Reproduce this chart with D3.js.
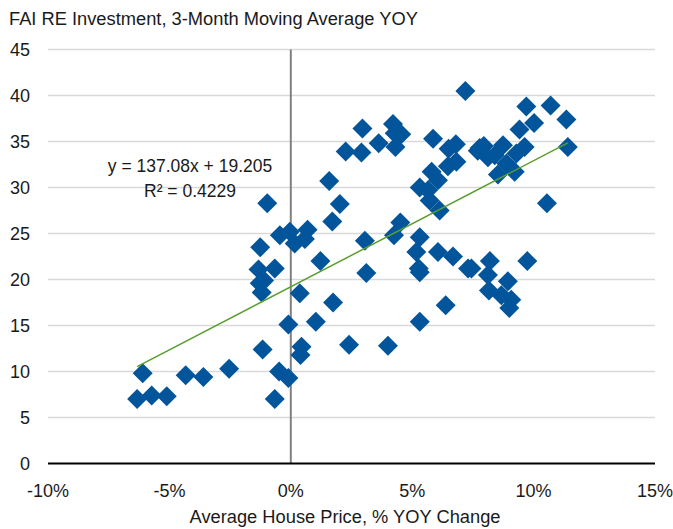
<!DOCTYPE html>
<meta charset="utf-8">
<style>
  body { margin: 0; background: #fff; }
  text { font-family: "Liberation Sans Narrow", "Arial Narrow", "Liberation Sans", sans-serif; fill: #1a1a1a; }
</style>
<body>
<svg width="673" height="529"></svg>
<script src="https://d3js.org/d3.v7.min.js"></script>
<script>

// house price yoy (%) and FAI RE investment 3mma yoy
var housePrice = [
  -6.10, -6.33, -5.73, -5.11, -4.33, -3.60, -2.54, -1.16, -1.33, -0.66,
  -1.28, -1.10, -1.20, -1.26, -0.97, -0.45, -0.04, 0.16, 0.69, 0.58,
  -0.48, -0.10, -0.66, -0.10, 0.37, 0.44, 0.40, 1.03, 1.22, 1.74,
  1.58, 2.02, 1.71, 2.40, 2.26, 2.91, 2.95, 3.05, 3.11, 3.62,
  4.00, 4.21, 4.28, 4.55, 4.31, 4.25, 4.51, 5.31, 5.17, 5.27,
  5.31, 5.31, 5.31, 5.65, 5.72, 5.86, 5.80, 6.06, 6.13, 6.06,
  6.38, 6.47, 6.82, 6.50, 6.80, 6.68, 7.19, 7.30, 7.44, 7.78,
  7.70, 7.95, 8.12, 8.40, 8.74, 8.88, 8.53, 9.22, 9.29, 8.20,
  8.12, 8.16, 8.67, 9.08, 9.00, 8.94, 9.42, 9.63, 9.70, 10.02,
  9.74, 10.55, 10.70, 11.35, 11.41
];
var faiInvestment = [
  9.8, 7.0, 7.4, 7.3, 9.6, 9.4, 10.3, 12.4, 21.1, 21.2,
  19.6, 19.9, 18.6, 23.5, 28.3, 24.8, 25.2, 23.9, 25.4, 24.4,
  10.0, 9.3, 7.0, 15.1, 18.5, 12.7, 11.8, 15.4, 22.0, 17.5,
  30.7, 28.2, 26.3, 12.9, 33.9, 33.8, 36.4, 24.2, 20.7, 34.8,
  12.8, 36.9, 35.9, 35.8, 34.4, 24.8, 26.2, 24.6, 23.0, 21.2,
  20.8, 15.4, 30.0, 29.7, 28.6, 35.3, 31.7, 30.8, 27.5, 23.0,
  17.2, 32.3, 32.8, 34.2, 34.7, 22.5, 40.5, 21.2, 21.2, 34.3,
  34.0, 34.5, 33.3, 33.5, 34.6, 32.6, 31.4, 31.7, 33.7, 22.0,
  20.5, 18.8, 18.3, 17.8, 16.9, 19.8, 36.3, 34.4, 38.8, 37.0,
  22.0, 28.3, 38.9, 37.4, 34.4
];
var xTicks = [-0.10, -0.05, 0, 0.05, 0.10, 0.15];
var yTicks = [0, 5, 10, 15, 20, 25, 30, 35, 40, 45];
var slope = 137.08, intercept = 19.205;

var svg = d3.select("svg");

var x = d3.scaleLinear().domain([-0.10, 0.15]).range([48, 655]);
var y = d3.scaleLinear().domain([0, 45]).range([463.5, 49.5]);

var points = housePrice.map(function(d, i) { return { x: d / 100, y: faiInvestment[i] }; });

// title
svg.append("text")
    .attr("x", 9).attr("y", 25)
    .style("font-size", "18.3px")
    .text("FAI RE Investment, 3-Month Moving Average YOY");

// horizontal gridlines
svg.append("g")
  .selectAll("line")
  .data(yTicks.filter(function(d) { return d > 0; }))
  .join("line")
    .attr("x1", x.range()[0]).attr("x2", x.range()[1])
    .attr("y1", function(d) { return y(d); })
    .attr("y2", function(d) { return y(d); })
    .attr("stroke", "#d9d9d9")
    .attr("stroke-width", 1.5);

// y tick labels
svg.append("g")
  .selectAll("text")
  .data(yTicks)
  .join("text")
    .attr("x", 30)
    .attr("y", function(d) { return y(d); })
    .attr("dy", "0.35em")
    .attr("text-anchor", "end")
    .style("font-size", "18px")
    .text(function(d) { return d; });

// x tick labels
svg.append("g")
  .selectAll("text")
  .data(xTicks)
  .join("text")
    .attr("x", function(d) { return x(d); })
    .attr("y", 497)
    .attr("text-anchor", "middle")
    .style("font-size", "18px")
    .text(function(d) { return Math.round(d * 100) + "%"; });

// x axis title
svg.append("text")
    .attr("x", 345).attr("y", 523)
    .attr("text-anchor", "middle")
    .style("font-size", "18.3px")
    .text("Average House Price, % YOY Change");

// vertical zero line
svg.append("line")
    .attr("x1", x(0)).attr("x2", x(0))
    .attr("y1", y(45)).attr("y2", y(0))
    .attr("stroke", "#808080")
    .attr("stroke-width", 2);

// horizontal zero axis
svg.append("line")
    .attr("x1", x.range()[0]).attr("x2", x.range()[1])
    .attr("y1", y(0)).attr("y2", y(0))
    .attr("stroke", "#000")
    .attr("stroke-width", 2);

// diamonds
var diamond = d3.symbol().type(d3.symbolSquare).size(200);
svg.append("g")
  .selectAll("path")
  .data(points)
  .join("path")
    .attr("d", diamond)
    .attr("transform", function(d) { return "translate(" + x(d.x) + "," + y(d.y) + ") rotate(45)"; })
    .attr("fill", "#03559b");

// linear trendline over the data range
var xExt = d3.extent(points, function(d) { return d.x; });
svg.append("line")
    .attr("x1", x(xExt[0])).attr("y1", y(slope * xExt[0] + intercept))
    .attr("x2", x(xExt[1])).attr("y2", y(slope * xExt[1] + intercept))
    .attr("stroke", "#5a9e2f")
    .attr("stroke-width", 1.5);

// equation label
var eq = svg.append("text")
    .attr("text-anchor", "middle")
    .style("font-size", "17.5px");
eq.append("tspan").attr("x", 190).attr("y", 172).text("y = 137.08x + 19.205");
eq.append("tspan").attr("x", 190).attr("y", 197).text("R² = 0.4229");

</script>
</body>
